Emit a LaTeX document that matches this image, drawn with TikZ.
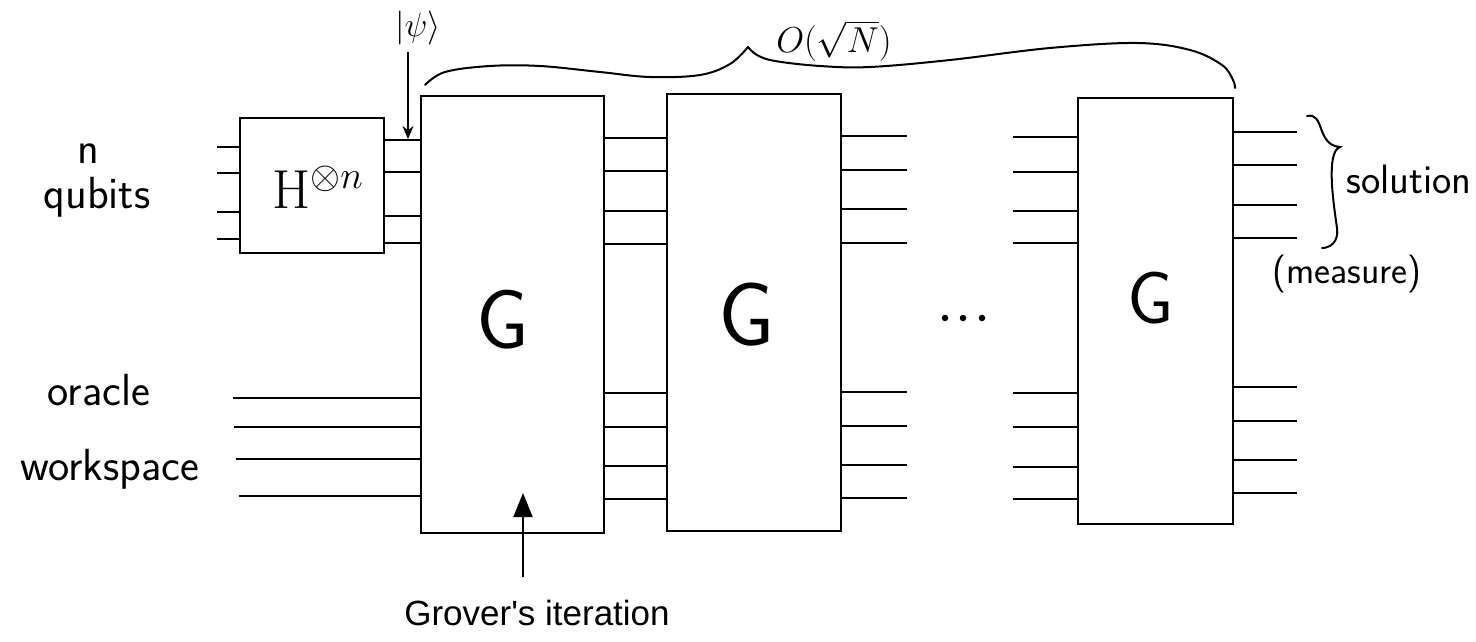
\RequirePackage{fix-cm}
\documentclass[tikz,border=0pt]{standalone}
\usepackage{fontspec}
\newfontfamily\groverfont{Liberation Sans}
\usetikzlibrary{arrows.meta}
\begin{document}
\begin{tikzpicture}[x=1pt,y=-1pt,
  gatebox/.style={draw, line width=2.2pt, inner sep=0pt, outer sep=0pt, fill=white},
  wire/.style={line width=2pt},
  hand/.style={font=\sffamily\fontsize{45}{50}\selectfont, inner sep=0pt},
  glabel/.style={font=\sffamily\fontsize{#1}{#1}\selectfont, inner sep=0pt},
  dotnode/.style={circle, fill, inner sep=0pt, minimum size=6.5pt}
]
\useasboundingbox (0,0) rectangle (1476,642);

% boxes
\node[gatebox, minimum width=144, minimum height=135] (H) at (312,185.5) {};
\node[gatebox, minimum width=183, minimum height=437] (G1) at (512.5,314.5) {};
\node[gatebox, minimum width=174, minimum height=437] (G2) at (754,312.5) {};
\node[gatebox, minimum width=155, minimum height=426] (G3) at (1155.5,311) {};

% box labels
\node[inner sep=0pt, anchor=base west, font=\fontsize{55}{60}\selectfont] (Hlab) at (272,208) {$\mathrm{H}^{\otimes n}$};
\node[glabel=84] (G1lab) at (503,320) {G};
\node[glabel=90] (G2lab) at (747,315) {G};
\node[glabel=74] (G3lab) at (1151,298) {G};

% H inputs
\foreach \y [count=\i] in {147,173,212,239} {
  \coordinate (hin\i) at (217,\y);
  \draw[wire] (hin\i) -- (H.west |- hin\i);
}
% H -> G1
\foreach \y in {140,172,216,243}
  \draw[wire] (H.east |- 0,\y) -- (G1.west |- 0,\y);
% oracle workspace -> G1
\foreach \x/\y [count=\i] in {233/398,234/427,236/459,239/496} {
  \coordinate (win\i) at (\x,\y);
  \draw[wire] (win\i) -- (G1.west |- win\i);
}
% G1 -> G2
\foreach \y in {138,171,211,244,393,427,466,499}
  \draw[wire] (G1.east |- 0,\y) -- (G2.west |- 0,\y);
% G2 outputs
\foreach \y [count=\i] in {136,170,209,243,392,426,465,498} {
  \coordinate (g2out\i) at (907,\y);
  \draw[wire] (G2.east |- g2out\i) -- (g2out\i);
}
% G3 inputs
\foreach \y [count=\i] in {137,172,211,243,393,427,467,499} {
  \coordinate (g3in\i) at (1013,\y);
  \draw[wire] (g3in\i) -- (G3.west |- g3in\i);
}
% G3 outputs
\foreach \y [count=\i] in {132,165,205,238,387,421,460,493} {
  \coordinate (g3out\i) at (1297,\y);
  \draw[wire] (G3.east |- g3out\i) -- (g3out\i);
}

% dots
\node[dotnode] (d1) at (945,318) {};
\node[dotnode] (d2) at (963,318) {};
\node[dotnode] (d3) at (982,318) {};

% left labels
\node[hand, anchor=base] (nlab) at (88,163) {n};
\node[hand, anchor=base] (qlab) at (97,208) {qubits};
\node[hand, anchor=base] (olab) at (99,405) {oracle};
\node[hand, anchor=base] (wlab) at (110,480) {workspace};

% psi label and arrow
\node[inner sep=0pt, font=\fontsize{34}{38}\selectfont] (psi) at (418,28) {$|\psi\rangle$};
\coordinate (psitail) at (408,52);
\coordinate (psitip) at (408,139);
\draw[line width=1.8pt, -{Stealth[length=13pt,width=11pt]}] (psitail) -- (psitip);

% big brace with O(sqrt N)
\node[inner sep=0pt, anchor=base, text height=28pt, text depth=9pt, font=\fontsize{36}{40}\selectfont] (onlab) at (834,53) {$O(\sqrt{N})$};
\coordinate (btip) at (748,47);
\draw[line width=2pt, line cap=round, line join=round]
  plot[smooth, tension=0.6] coordinates {(425,85) (445,72) (490,66) (540,66) (600,72) (650,77) (700,75) (730,64) (748,47)};
\draw[line width=2pt, line cap=round, line join=round]
  plot[smooth, tension=0.6] coordinates {(748,47) (757,55) (775,61) (820,66) (870,67) (950,60) (1050,48) (1137,43) (1190,50) (1222,65) (1233,80) (1235,88)};

% solution brace
\coordinate (sbtop) at (1307,116);
\coordinate (sbtip) at (1340,147);
\coordinate (sbbot) at (1322,248);
\draw[line width=2pt, line cap=round]
  (sbtop) .. controls (1325,112) and (1316,145) .. (sbtip)
  .. controls (1326,152) and (1333,200) .. (1337,228)
  .. controls (1339,242) and (1330,248) .. (sbbot);
\node[hand, anchor=base, font=\sffamily\fontsize{41}{45}\selectfont] (sollab) at (1409,193) {solution};
\node[hand, anchor=base, font=\sffamily\fontsize{38}{42}\selectfont] (measlab) at (1347,283) {(measure)};

% Grover's iteration
\node[inner sep=0pt, font=\groverfont\fontsize{35}{40}\selectfont] (grov) at (537,613) {Grover's iteration};
\coordinate (grtail) at (523,577);
\coordinate (grtip) at (523,493);
\draw[line width=2pt, -{Triangle[length=24pt,width=19pt]}] (grtail) -- (grtip);
\end{tikzpicture}
\end{document}
